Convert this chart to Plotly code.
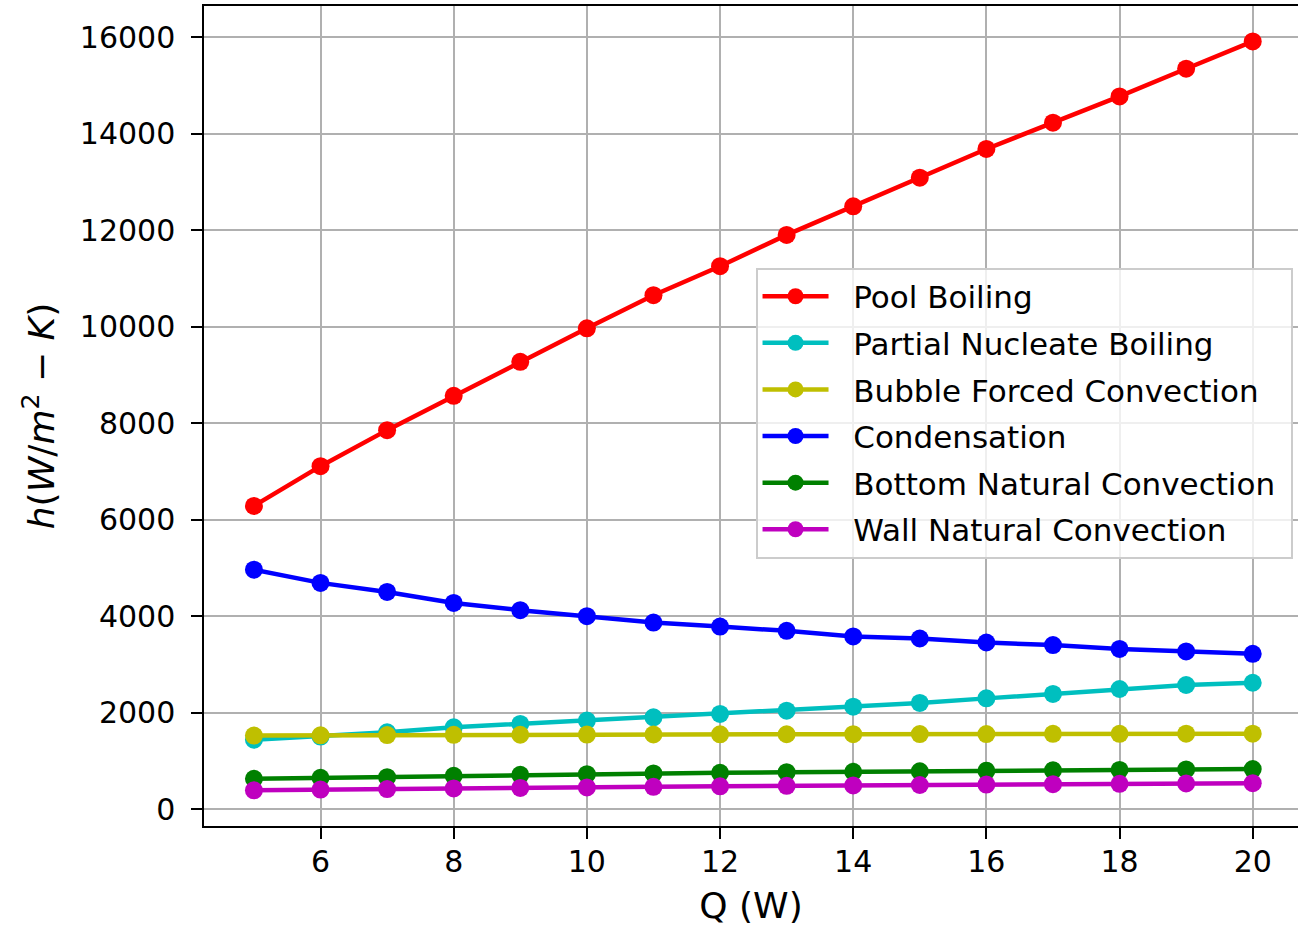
import plotly.graph_objects as go

# Heater power (W)
Q = [5, 6, 7, 8, 9, 10, 11, 12, 13, 14, 15, 16, 17, 18, 19, 20]

# Heat transfer coefficients, W/m^2-K
pool_boiling = [6286, 7110, 7857, 8568, 9274, 9967, 10654, 11255, 11905, 12497,
                13090, 13686, 14231, 14776, 15350, 15915]
partial_nucleate = [1440, 1505, 1593, 1696, 1766, 1835, 1903, 1973, 2040, 2124,
                    2201, 2296, 2387, 2490, 2573, 2620]
bubble_forced = [1524, 1530, 1535, 1540, 1542, 1545, 1547, 1550, 1552, 1553,
                 1555, 1557, 1560, 1562, 1563, 1565]
condensation = [4965, 4690, 4503, 4275, 4124, 4000, 3868, 3785, 3696, 3580,
                3537, 3454, 3400, 3320, 3268, 3220]
bottom_natural = [628, 648, 662, 690, 710, 725, 740, 752, 765, 775,
                  785, 795, 805, 813, 822, 830]
wall_natural = [390, 405, 415, 428, 440, 450, 462, 472, 482, 492,
                500, 508, 516, 524, 531, 538]

series = [
    ("Pool Boiling", pool_boiling, "#ff0000"),
    ("Partial Nucleate Boiling", partial_nucleate, "#00bfbf"),
    ("Bubble Forced Convection", bubble_forced, "#bfbf00"),
    ("Condensation", condensation, "#0000ff"),
    ("Bottom Natural Convection", bottom_natural, "#008000"),
    ("Wall Natural Convection", wall_natural, "#bf00bf"),
]

FONT = "DejaVu Sans"
PAD = "\u00a0"  # spacing around legend labels

fig = go.Figure()
for i, (name, vals, color) in enumerate(series):
    fig.add_trace(go.Scatter(
        x=Q, y=vals, name=PAD + PAD + name + PAD, mode="lines+markers",
        line=dict(color=color, width=4.5),
        marker=dict(color=color, size=18),
        legendgroup=f"g{i}",
    ))

axis_common = dict(
    showline=True, linecolor="black", linewidth=2.4,
    ticks="outside", ticklen=10.5, tickwidth=2.4, tickcolor="black",
    showgrid=True, gridcolor="#b0b0b0", gridwidth=2.4,
    zeroline=False,
    tickfont=dict(family=FONT, size=30, color="black"),
)

fig.update_xaxes(
    range=[4.25, 20.68], tickvals=[6, 8, 10, 12, 14, 16, 18, 20],
    mirror=True, ticklabelstandoff=-3, automargin=False,
    title=dict(text="Q (W)", font=dict(family=FONT, size=36, color="black"), standoff=27),
    **axis_common,
)
fig.update_yaxes(
    range=[-350, 16650], tickvals=list(range(0, 16001, 2000)), tickformat="d",
    ticklabelstandoff=10,
    title=dict(text="<i>h</i>(<i>W</i>/<i>m</i><sup>2</sup> − <i>K</i>)",
               font=dict(family=FONT, size=36, color="black"), standoff=14),
    **axis_common,
)

fig.update_layout(
    width=1298, height=926,
    margin=dict(l=204, r=0, t=6, b=100),
    paper_bgcolor="white", plot_bgcolor="white",
    font=dict(family=FONT, color="black"),
    showlegend=True,
    legend=dict(
        x=0.995, y=0.681, xanchor="right", yanchor="top",
        bgcolor="rgba(255,255,255,0.8)", bordercolor="#cccccc", borderwidth=2,
        font=dict(family=FONT, size=31, color="black"),
        tracegroupgap=3.3, itemwidth=66,
    ),
)

fig.write_html("out.html")
